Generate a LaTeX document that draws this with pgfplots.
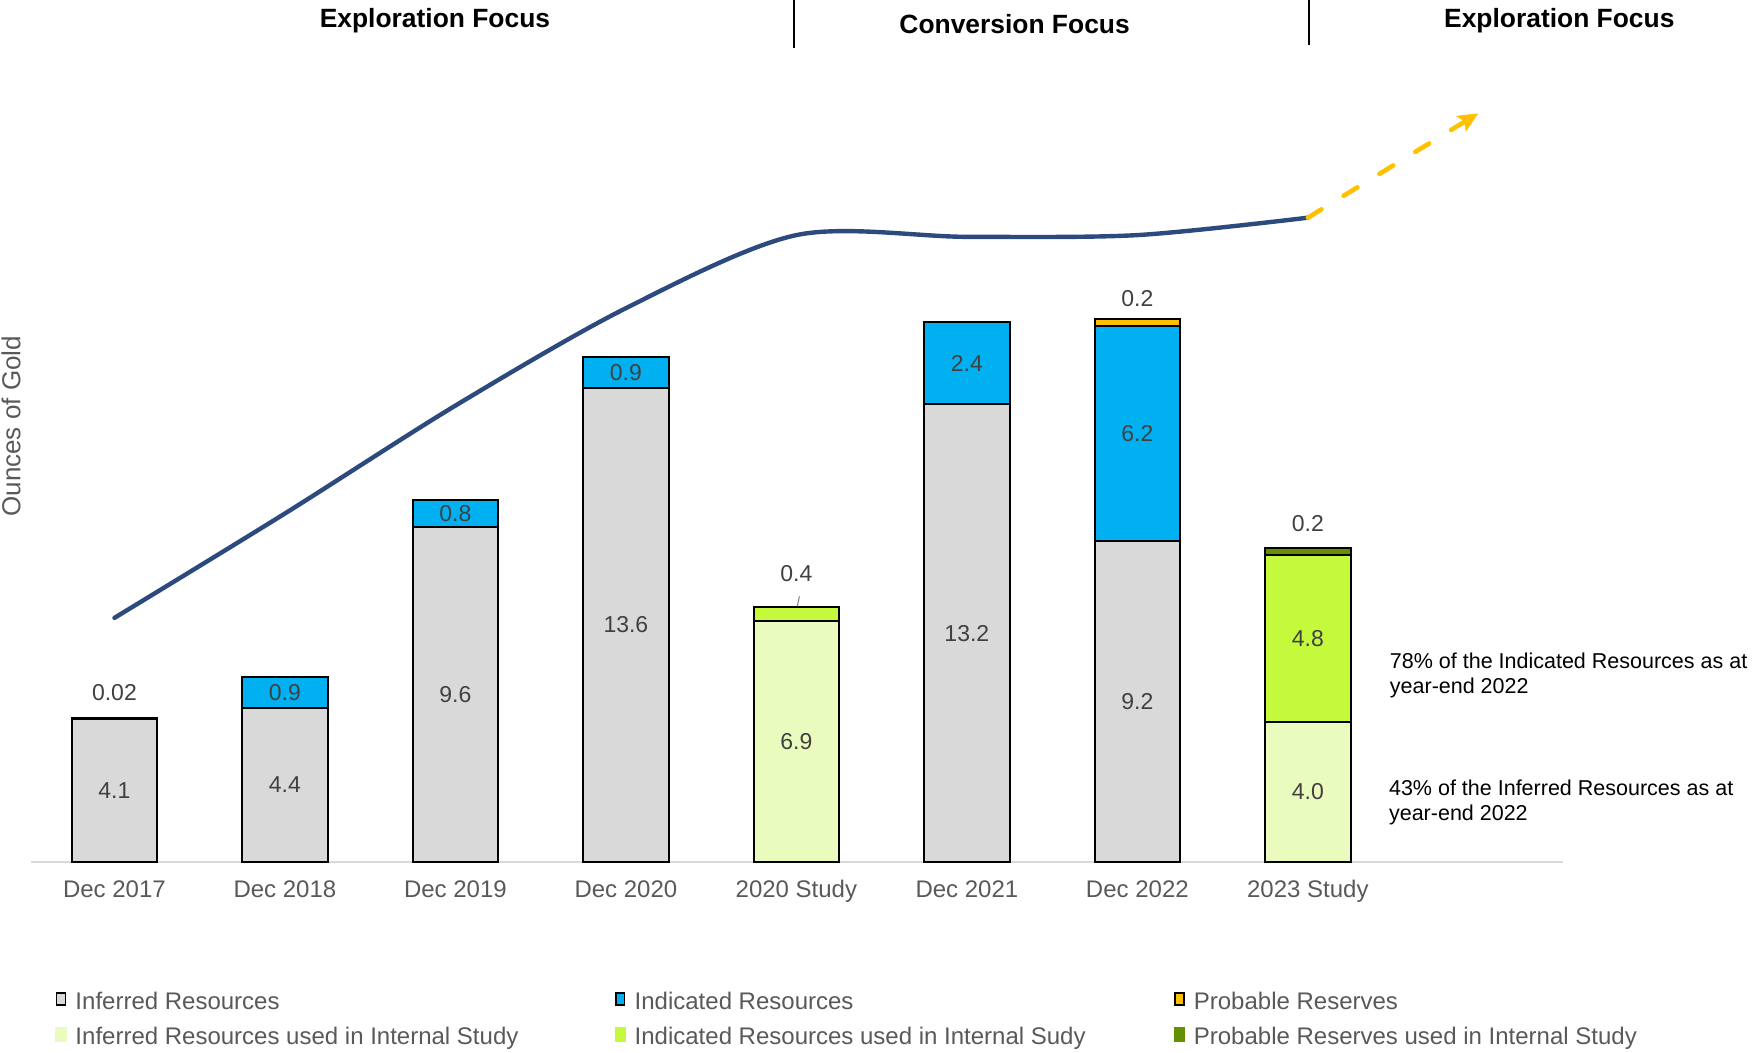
\documentclass[border=0pt]{standalone}
\usepackage{pgfplots}
\pgfplotsset{compat=1.18}
\usepackage{fontspec}
\setmainfont{Liberation Sans}
\usetikzlibrary{arrows.meta}
\definecolor{infgray}{HTML}{D9D9D9}
\definecolor{indblue}{HTML}{00B0F0}
\definecolor{probgold}{HTML}{FFC000}
\definecolor{infstudy}{HTML}{EAFCBD}
\definecolor{indstudy}{HTML}{C5FA3C}
\definecolor{probstudy}{HTML}{659000}
\definecolor{navyline}{HTML}{2C4A7E}
\definecolor{tickgray}{HTML}{595959}
\definecolor{labgray}{HTML}{404040}
\pgfplotsset{commonax/.style={
  at={(15.7pt,-430.75pt)}, anchor=south west,
  scale only axis,
  width=765.65pt, height=430.75pt,
  xmin=-0.487, xmax=8.495,
  ymin=0, ymax=24.756,
  clip=false}}
\tikzset{lbl/.style={font=\fontsize{11.5}{13}\selectfont, text=labgray}}
\begin{document}
\begin{tikzpicture}
\useasboundingbox (0pt,0pt) rectangle (879.5pt,-526.5pt);
\begin{axis}[
  commonax,
  ybar stacked,
  bar width=42.65pt,
  axis x line=bottom,
  axis y line=none,
  axis line style={-, draw=infgray, line width=1pt},
  xtick={0,1,2,3,4,5,6,7},
  xticklabels={Dec 2017, Dec 2018, Dec 2019, Dec 2020, 2020 Study, Dec 2021, Dec 2022, 2023 Study},
  major tick length=0pt,
  ytick=\empty,
  xticklabel style={font=\fontsize{12}{14}\selectfont, text=tickgray, yshift=-6pt},
  legend columns=3,
  legend cell align=left,
  legend style={at={(0.01541,-0.1501)}, anchor=north west, draw=none, fill=none,
    font=\fontsize{12}{14}\selectfont, text=tickgray,
    inner sep=0pt, column sep=0pt, row sep=5.5pt,
    nodes={inner sep=0pt, text height=9pt, text depth=3pt}},
]
\addplot[fill=infgray, draw=black, line width=1pt, forget plot] coordinates
  {(0,4.1) (1,4.4) (2,9.6) (3,13.6) (4,0) (5,13.15) (6,9.2) (7,0)};
\addplot[fill=indblue, draw=black, line width=1pt, forget plot] coordinates
  {(0,0.02) (1,0.9) (2,0.8) (3,0.9) (4,0) (5,2.35) (6,6.2) (7,0)};
\addplot[fill=probgold, draw=black, line width=1pt, forget plot] coordinates
  {(0,0) (1,0) (2,0) (3,0) (4,0) (5,0) (6,0.2) (7,0)};
\addplot[fill=infstudy, draw=black, line width=1pt, forget plot] coordinates
  {(0,0) (1,0) (2,0) (3,0) (4,6.9) (5,0) (6,0) (7,4.0)};
\addplot[fill=indstudy, draw=black, line width=1pt, forget plot] coordinates
  {(0,0) (1,0) (2,0) (3,0) (4,0.4) (5,0) (6,0) (7,4.8)};
\addplot[fill=probstudy, draw=black, line width=1pt, forget plot] coordinates
  {(0,0) (1,0) (2,0) (3,0) (4,0) (5,0) (6,0) (7,0.2)};

\addlegendimage{legend image code/.code={\draw[fill=infgray, draw=black, line width=0.8pt] (0pt,-1.0pt) rectangle (4.4pt,5.0pt);}}
\addlegendentry{\makebox[274pt][l]{\hspace{4.45pt}Inferred Resources}}
\addlegendimage{legend image code/.code={\draw[fill=indblue, draw=black, line width=0.8pt] (0pt,-1.0pt) rectangle (4.4pt,5.0pt);}}
\addlegendentry{\makebox[274pt][l]{\hspace{4.45pt}Indicated Resources}}
\addlegendimage{legend image code/.code={\draw[fill=probgold, draw=black, line width=0.8pt] (0pt,-1.0pt) rectangle (4.4pt,5.0pt);}}
\addlegendentry{\makebox[274pt][l]{\hspace{4.45pt}Probable Reserves}}
\addlegendimage{legend image code/.code={\fill[infstudy] (-0.4pt,-1.4pt) rectangle (4.8pt,5.4pt);}}
\addlegendentry{\makebox[274pt][l]{\hspace{4.45pt}Inferred Resources used in Internal Study}}
\addlegendimage{legend image code/.code={\fill[indstudy] (-0.4pt,-1.4pt) rectangle (4.8pt,5.4pt);}}
\addlegendentry{\makebox[274pt][l]{\hspace{4.45pt}Indicated Resources used in Internal Sudy}}
\addlegendimage{legend image code/.code={\fill[probstudy] (-0.4pt,-1.4pt) rectangle (4.8pt,5.4pt);}}
\addlegendentry{\makebox[274pt][l]{\hspace{4.45pt}Probable Reserves used in Internal Study}}

\node[anchor=west, align=left, font=\fontsize{10.75}{12.5}\selectfont, text=black] at (axis cs:7.44,5.35)
  {78\% of the Indicated Resources as at\\year-end 2022};
\node[anchor=west, align=left, font=\fontsize{10.75}{12.5}\selectfont, text=black] at (axis cs:7.435,1.69)
  {43\% of the Inferred Resources as at\\year-end 2022};

\node[font=\fontsize{13.2}{15}\selectfont\bfseries, text=black] at (axis cs:1.88,24.17) {Exploration Focus};
\node[font=\fontsize{13.2}{15}\selectfont\bfseries, text=black] at (axis cs:5.28,24.05) {Conversion Focus};
\node[font=\fontsize{13.2}{15}\selectfont\bfseries, text=black] at (axis cs:8.475,24.17) {Exploration Focus};
\draw[black, line width=1.2pt] (axis cs:3.986,24.756) -- (axis cs:3.986,23.38);
\draw[black, line width=1.2pt] (axis cs:7.006,24.756) -- (axis cs:7.006,23.46);
\end{axis}
\begin{axis}[commonax, hide axis]
\addplot[smooth, navyline, line width=2.2pt, line cap=round, no marks] coordinates
  {(0,7.0) (1,10.0) (2,13.1) (3,15.9) (4,18.0) (5,17.95) (6,18.0) (7,18.5)};
\addplot[sharp plot, probgold, line width=2.3pt, line cap=round, dash pattern=on 8pt off 13pt,
  -{Stealth[length=10pt, width=9pt, inset=2pt]}, no marks] coordinates
  {(7,18.5) (8,21.5)};
\node[lbl] at (axis cs:0,2.05) {4.1};
\node[lbl] at (axis cs:0,4.84) {0.02};
\node[lbl] at (axis cs:1,2.2) {4.4};
\node[lbl] at (axis cs:1,4.85) {0.9};
\node[lbl] at (axis cs:2,4.8) {9.6};
\node[lbl] at (axis cs:2,10.0) {0.8};
\node[lbl] at (axis cs:3,6.8) {13.6};
\node[lbl] at (axis cs:3,14.05) {0.9};
\node[lbl] at (axis cs:4,3.45) {6.9};
\node[lbl] at (axis cs:4,8.28) {0.4};
\node[lbl] at (axis cs:5,6.55) {13.2};
\node[lbl] at (axis cs:5,14.3) {2.4};
\node[lbl] at (axis cs:6,4.6) {9.2};
\node[lbl] at (axis cs:6,12.3) {6.2};
\node[lbl] at (axis cs:6,16.18) {0.2};
\node[lbl] at (axis cs:7,2.0) {4.0};
\node[lbl] at (axis cs:7,6.4) {4.8};
\node[lbl] at (axis cs:7,9.7) {0.2};
\draw[gray, line width=0.5pt] (axis cs:4.018,7.62) -- (axis cs:4.005,7.33);
\end{axis}
\node[rotate=90, font=\fontsize{13}{15}\selectfont, text=tickgray] at (5.6pt,-213.15pt) {Ounces of Gold};
\end{tikzpicture}
\end{document}
